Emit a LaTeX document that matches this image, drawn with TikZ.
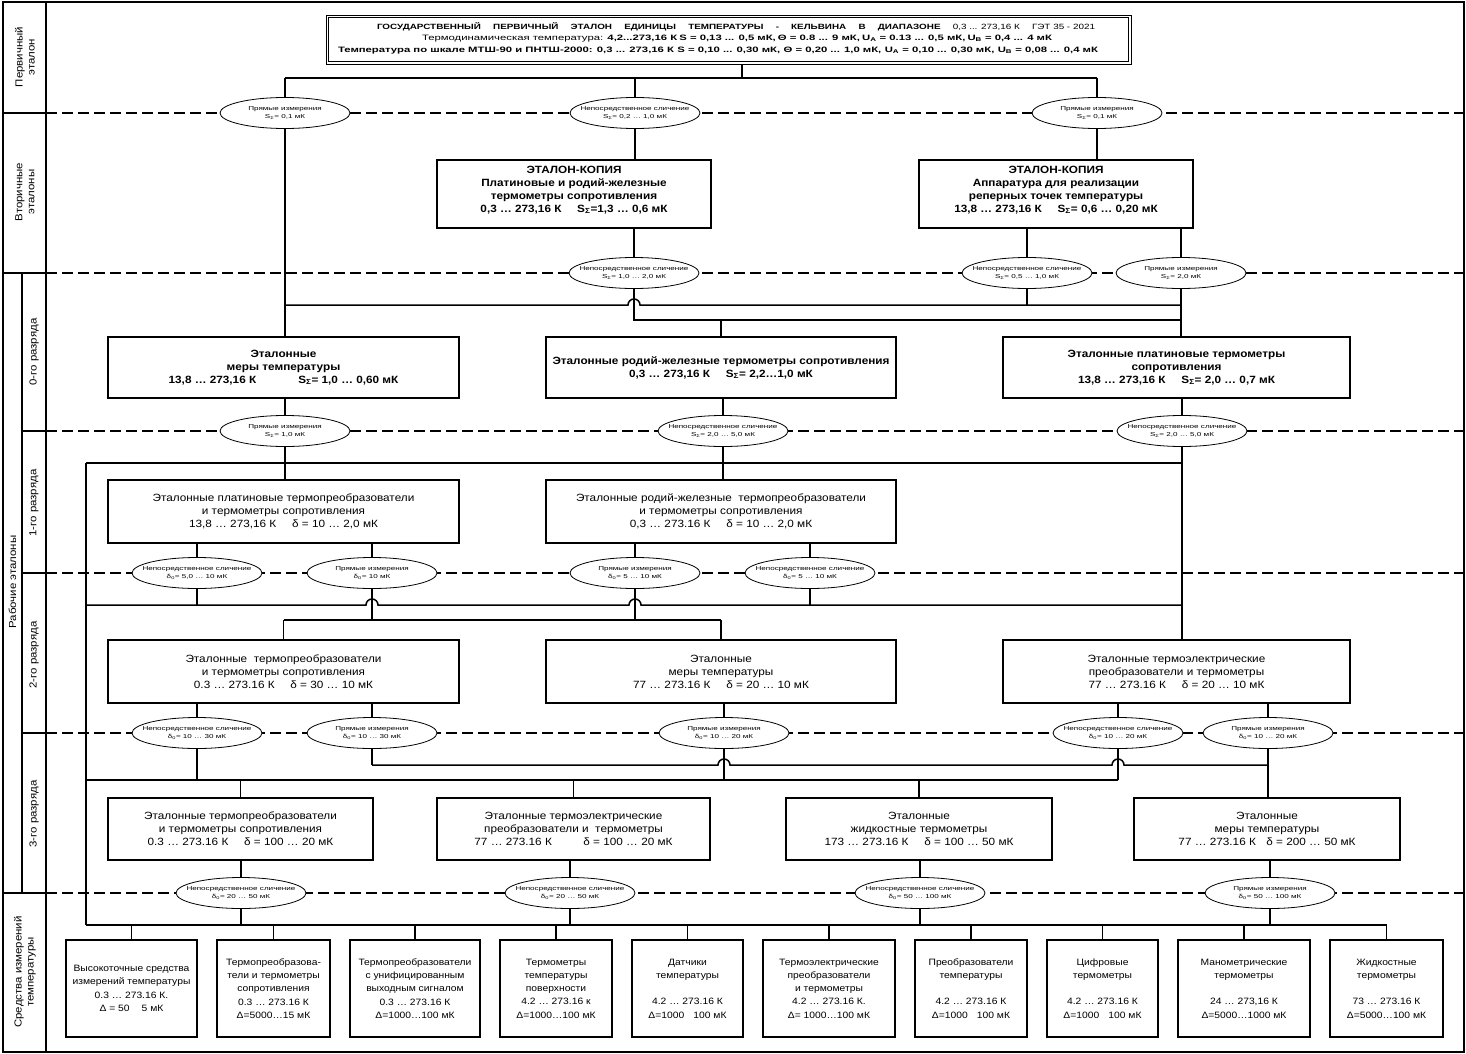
\documentclass[tikz,border=0pt]{standalone}
\usepackage{fontspec}
\setmainfont{Liberation Sans}[FakeStretch=1.12]
\newfontfamily\elfam{Liberation Sans}[FakeStretch=1.42]
\newfontfamily\hdfam{Liberation Sans}[FakeStretch=1.3]
\newfontfamily\hdfamb{Liberation Sans}[FakeStretch=1.45]
\usetikzlibrary{shapes.geometric,calc}
\newcommand\bxf{\fontsize{10.5}{13}\selectfont}
\newcommand\smf{\fontsize{9.2}{13.3}\selectfont}
\newcommand\elf{\elfam\fontsize{5.7}{7.2}\selectfont}
\newcommand\hdf{\hdfam\fontsize{7.6}{9}\selectfont}
\newcommand\hdfb{\hdfamb\fontsize{7.8}{9}\selectfont}
\newcommand\sbf{\fontsize{10.2}{12}\selectfont}
\newcommand\Ss{S\textsubscript{Σ}}
\newcommand\du{δ\textsubscript{0}}
\begin{document}
\begin{tikzpicture}[x=1pt,y=-1pt,
  bx/.style={draw, line width=1.8pt, inner sep=2pt, align=center, font=\bxf},
  bb/.style={bx, font=\bxf\bfseries},
  sb/.style={draw, line width=1.8pt, inner sep=1pt, align=center, font=\smf, minimum height=97pt},
  el/.style={ellipse, draw, line width=0.8pt, fill=white, minimum width=130pt, minimum height=31pt, inner xsep=-14pt, inner ysep=0pt, align=center, font=\elf},
  sep/.style={line width=2.5pt, dash pattern=on 11pt off 5pt},
  conn/.style={line width=1.5pt},
  fr/.style={line width=1.8pt},
  lab/.style={rotate=90, align=center, font=\sbf, inner sep=0pt},
  hd/.style={inner sep=0pt, font=\hdf},
  hdb/.style={inner sep=0pt, font=\hdfb}
]
\useasboundingbox (0,0) rectangle (1466,1054);
% frame and sidebar
\draw[fr] (3,2) rectangle (1464,1052);
\draw[fr] (46,2) -- (46,1052);
\draw[fr] (3,113) -- (46,113);
\draw[fr] (3,273) -- (46,273);
\draw[fr] (3,893) -- (46,893);
\draw[fr] (22,273) -- (22,893);
\draw[fr] (22,431) -- (46,431);
\draw[fr] (22,573) -- (46,573);
\draw[fr] (22,733) -- (46,733);
\foreach \yy in {113,273,431,573,733,893} \draw[sep] (46,\yy) -- (1466,\yy);
\node[lab] (l1) at (25,57) {Первичный\\эталон};
\node[lab] (l2) at (25,192) {Вторичные\\эталоны};
\node[lab] (l3) at (12.5,582) {Рабочие эталоны};
\node[lab] (l4) at (34,352) {0-го разряда};
\node[lab] (l5) at (34,503) {1-го разряда};
\node[lab] (l6) at (34,655) {2-го разряда};
\node[lab] (l7) at (34,814) {3-го разряда};
\node[lab] (l8) at (25,972) {Средства измерений\\температуры};
% primary standard
\node[draw, line width=0.8pt, minimum width=805pt, minimum height=49pt, inner sep=0pt] (prim) at (728.5,39.5) {};
\draw[line width=1.6pt] ($(prim.north west)+(3pt,-3pt)$) rectangle ($(prim.south east)+(-3pt,3pt)$);
\node[hd] (h1) at (736,27) {\makebox[718pt]{\bfseries ГОСУДАРСТВЕННЫЙ\hfill ПЕРВИЧНЫЙ\hfill ЭТАЛОН\hfill ЕДИНИЦЫ\hfill ТЕМПЕРАТУРЫ\hfill -\hfill КЕЛЬВИНА\hfill В\hfill ДИАПАЗОНЕ\hfill\mdseries 0,3 ... 273,16 К\hfill ГЭТ 35 - 2021}};
\node[hdb] (h2) at (737,38.5) {\makebox[630pt]{Термодинамическая температура:\hfill\hfill\bfseries 4,2...273,16 К\hfill S = 0,13 ... 0,5 мК,\hfill Θ = 0.8 ... 9 мК,\hfill U\textsubscript{A} = 0.13 ... 0,5 мК,\hfill U\textsubscript{B} = 0,4 ... 4 мК}};
\node[hdb] (h3) at (718,51) {\makebox[760pt]{\bfseries Температура по шкале МТШ-90 и ПНТШ-2000: 0,3 ... 273,16 К\hfill S = 0,10 ... 0,30 мК,\hfill Θ = 0,20 ... 1,0 мК,\hfill U\textsubscript{A} = 0,10 ... 0,30 мК,\hfill U\textsubscript{B} = 0,08 ... 0,4 мК}};
% secondary
\node[bb, minimum width=274pt, minimum height=68pt] (sec1) at (574,194) {ЭТАЛОН-КОПИЯ\\Платиновые и родий-железные\\термометры сопротивления\\0,3 … 273,16 К\hspace{1.5em}\Ss=1,3 … 0,6 мК\\[-3pt]};
\node[bb, minimum width=274pt, minimum height=68pt] (sec2) at (1056,194) {ЭТАЛОН-КОПИЯ\\Аппаратура для реализации\\реперных точек температуры\\13,8 … 273,16 К\hspace{1.5em}\Ss = 0,6 … 0,20 мК\\[-3pt]};
% level 0
\node[bb, minimum width=351pt, minimum height=61pt] (b0a) at (283.5,367.5) {Эталонные\\меры температуры\\13,8 … 273,16 К\hspace{4em}\Ss = 1,0 … 0,60 мК};
\node[bb, minimum width=350pt, minimum height=61pt] (b0b) at (721,367.5) {Эталонные родий-железные термометры сопротивления\\0,3 … 273,16 К\hspace{1.5em}\Ss = 2,2…1,0 мК};
\node[bb, minimum width=347pt, minimum height=61pt] (b0c) at (1176.5,367.5) {Эталонные платиновые термометры\\сопротивления\\13,8 … 273,16 К\hspace{1.5em}\Ss = 2,0 … 0,7 мК};
% level 1
\node[bx, minimum width=351pt, minimum height=63pt] (b1a) at (283.5,511.5) {Эталонные платиновые термопреобразователи\\и термометры сопротивления\\13,8 … 273,16 К\hspace{1.5em}δ = 10 … 2,0 мК};
\node[bx, minimum width=350pt, minimum height=63pt] (b1b) at (721,511.5) {Эталонные родий-железные\ \ термопреобразователи\\и термометры сопротивления\\0,3 … 273.16 К\hspace{1.5em}δ = 10 … 2,0 мК};
% level 2
\node[bx, minimum width=351pt, minimum height=63pt] (b2a) at (283.5,671.5) {Эталонные\ \ термопреобразователи\\и термометры сопротивления\\0.3 … 273.16 К\hspace{1.5em}δ = 30 … 10 мК};
\node[bx, minimum width=350pt, minimum height=63pt] (b2b) at (721,671.5) {Эталонные\\меры температуры\\77 … 273.16 К\hspace{1.5em}δ = 20 … 10 мК};
\node[bx, minimum width=347pt, minimum height=63pt] (b2c) at (1176.5,671.5) {Эталонные термоэлектрические\\преобразователи и термометры\\77 … 273.16 К\hspace{1.5em}δ = 20 … 10 мК};
% level 3
\node[bx, minimum width=265pt, minimum height=62pt] (b3a) at (240.5,829) {Эталонные термопреобразователи\\и термометры сопротивления\\0.3 … 273.16 К\hspace{1.5em}δ = 100 … 20 мК};
\node[bx, minimum width=273pt, minimum height=62pt] (b3b) at (573.5,829) {Эталонные термоэлектрические\\преобразователи и\ \ термометры\\77 … 273.16 К\hspace{3em}δ = 100 … 20 мК};
\node[bx, minimum width=266pt, minimum height=62pt] (b3c) at (919,829) {Эталонные\\жидкостные термометры\\173 … 273.16 К\hspace{1.5em}δ = 100 … 50 мК};
\node[bx, minimum width=266pt, minimum height=62pt] (b3d) at (1267,829) {Эталонные\\меры температуры\\77 … 273.16 К\hspace{1em}δ = 200 … 50 мК};
% measuring instruments
\node[sb, minimum width=131pt] (m1) at (131.5,988.5) {Высокоточные средства\\измерений температуры\\0.3 … 273.16 К.\\Δ = 50 \quad 5 мК};
\node[sb, minimum width=113pt] (m2) at (273.5,988.5) {Термопреобразова-\\тели и термометры\\сопротивления\\0.3 … 273.16 К\\Δ=5000…15 мК};
\node[sb, minimum width=130pt] (m3) at (415,988.5) {Термопреобразователи\\с унифицированным\\выходным сигналом\\0.3 … 273.16 К\\Δ=1000…100 мК};
\node[sb, minimum width=112pt] (m4) at (556,988.5) {Термометры\\температуры\\поверхности\\4.2 … 273.16 к\\Δ=1000…100 мК};
\node[sb, minimum width=111pt] (m5) at (687.5,988.5) {Датчики\\температуры\\[13pt]4.2 … 273.16 К\\Δ=1000\quad 100 мК};
\node[sb, minimum width=132pt] (m6) at (829,988.5) {Термоэлектрические\\преобразователи\\и термометры\\4.2 … 273.16 К.\\Δ= 1000…100 мК};
\node[sb, minimum width=112pt] (m7) at (971,988.5) {Преобразователи\\температуры\\[13pt]4.2 … 273.16 К\\Δ=1000\quad 100 мК};
\node[sb, minimum width=111pt] (m8) at (1102.5,988.5) {Цифровые\\термометры\\[13pt]4.2 … 273.16 К\\Δ=1000\quad 100 мК};
\node[sb, minimum width=132pt] (m9) at (1244,988.5) {Манометрические\\термометры\\[13pt]24 … 273,16 К\\Δ=5000…1000 мК};
\node[sb, minimum width=113pt] (m10) at (1386.5,988.5) {Жидкостные\\термометры\\[13pt]73 … 273.16 К\\Δ=5000…100 мК};
% ellipses
\node[el] (e11) at (285,113) {Прямые измерения\\\Ss = 0,1 мК};
\node[el] (e12) at (635,113) {Непосредственное сличение\\\Ss = 0,2 … 1,0 мК};
\node[el] (e13) at (1097,113) {Прямые измерения\\\Ss = 0,1 мК};
\node[el] (e21) at (634,273) {Непосредственное сличение\\\Ss = 1,0 … 2,0 мК};
\node[el] (e22) at (1027,273) {Непосредственное сличение\\\Ss = 0,5 … 1,0 мК};
\node[el] (e23) at (1181,273) {Прямые измерения\\\Ss = 2,0 мК};
\node[el] (e31) at (285,431) {Прямые измерения\\\Ss = 1,0 мК};
\node[el] (e32) at (723,431) {Непосредственное сличение\\\Ss = 2,0 … 5,0 мК};
\node[el] (e33) at (1182,431) {Непосредственное сличение\\\Ss = 2,0 … 5,0 мК};
\node[el] (e41) at (197,573) {Непосредственное сличение\\\du = 5,0 … 10 мК};
\node[el] (e42) at (372,573) {Прямые измерения\\\du = 10 мК};
\node[el] (e43) at (635,573) {Прямые измерения\\\du = 5 … 10 мК};
\node[el] (e44) at (810,573) {Непосредственное сличение\\\du = 5 … 10 мК};
\node[el] (e51) at (197,733) {Непосредственное сличение\\\du = 10 … 30 мК};
\node[el] (e52) at (372,733) {Прямые измерения\\\du = 10 … 30 мК};
\node[el] (e53) at (724,733) {Прямые измерения\\\du = 10 … 20 мК};
\node[el] (e54) at (1118,733) {Непосредственное сличение\\\du = 10 … 20 мК};
\node[el] (e55) at (1268,733) {Прямые измерения\\\du = 10 … 20 мК};
\node[el] (e61) at (241,893) {Непосредственное сличение\\\du = 20 … 50 мК};
\node[el] (e62) at (570,893) {Непосредственное сличение\\\du = 20 … 50 мК};
\node[el] (e63) at (920,893) {Непосредственное сличение\\\du = 50 … 100 мК};
\node[el] (e64) at (1270,893) {Прямые измерения\\\du = 50 … 100 мК};
% connectors: primary
\coordinate (j0) at (742,78);
\draw[conn] (prim.south -| j0) -- (j0);
\draw[conn] (e11 |- j0) -- (e13 |- j0);
\draw[conn] (e11 |- j0) -- (e11.north);
\draw[conn] (e12 |- j0) -- (e12.north);
\draw[conn] (e13 |- j0) -- (e13.north);
\draw[conn] (e11.south) -- (e11 |- b0a.north);
\draw[conn] (e12.south) -- (e12 |- sec1.north);
\draw[conn] (e13.south) -- (e13 |- sec2.north);
% secondary -> level 0
\coordinate (j1) at (0,305);
\coordinate (j2) at (0,320);
\draw[conn] (sec1.south -| e21) -- (e21.north);
\draw[conn] (sec2.south -| e22) -- (e22.north);
\draw[conn] (sec2.south -| e23) -- (e23.north);
\draw[conn] (e11 |- j1) -- ($(e21 |- j1)+(-6pt,0pt)$) arc[start angle=180,end angle=0,radius=6pt] -- (e23 |- j1);
\draw[conn] (e21.south) -- (e21 |- j2) -- (e23 |- j2);
\draw[conn] (e22.south) -- (e22 |- j1);
\draw[conn] (e23.south) -- (e23 |- b0c.north);
\draw[conn] (b0b.north |- j2) -- (b0b.north);
% level 0 -> level 1
\coordinate (j3) at (86,463);
\coordinate (j9) at (86,925);
\draw[conn] (b0a.south -| e31) -- (e31.north);
\draw[conn] (b0b.south -| e32) -- (e32.north);
\draw[conn] (b0c.south -| e33) -- (e33.north);
\draw[conn] (j3) -- (e33 |- j3);
\draw[conn] (j3) -- (j9);
\draw[conn] (e31.south) -- (e31 |- b1a.north);
\draw[conn] (e32.south) -- (e32 |- b1b.north);
\draw[conn] (e33.south) -- (e33 |- b2c.north);
% level 1 -> level 2
\coordinate (j4) at (86,605);
\coordinate (j5) at (0,620);
\draw[conn] (b1a.south -| e41) -- (e41.north);
\draw[conn] (b1a.south -| e42) -- (e42.north);
\draw[conn] (b1b.south -| e43) -- (e43.north);
\draw[conn] (b1b.south -| e44) -- (e44.north);
\draw[conn] (j4) -- ($(e42 |- j4)+(-6pt,0pt)$) arc[start angle=180,end angle=0,radius=6pt] -- ($(e43 |- j4)+(-6pt,0pt)$) arc[start angle=180,end angle=0,radius=6pt] -- (e33 |- j4);
\draw[conn] (e41.south) -- (e41 |- j4);
\draw[conn] (e44.south) -- (e44 |- j4);
\draw[conn] (e42.south) -- (e42 |- j5);
\draw[conn] (e43.south) -- (e43 |- j5);
\draw[conn] (b2a.north |- j5) -- (b2b.north |- j5);
\draw[conn] (b2a.north |- j5) -- (b2a.north);
\draw[conn] (b2b.north |- j5) -- (b2b.north);
% level 2 -> level 3
\coordinate (j6) at (0,765);
\coordinate (j7) at (86,780);
\draw[conn] (b2a.south -| e51) -- (e51.north);
\draw[conn] (b2a.south -| e52) -- (e52.north);
\draw[conn] (b2b.south -| e53) -- (e53.north);
\draw[conn] (b2c.south -| e54) -- (e54.north);
\draw[conn] (b2c.south -| e55) -- (e55.north);
\draw[conn] (e52 |- j6) -- ($(e53 |- j6)+(-6pt,0pt)$) arc[start angle=180,end angle=0,radius=6pt] -- ($(e54 |- j6)+(-6pt,0pt)$) arc[start angle=180,end angle=0,radius=6pt] -- (e55 |- j6);
\draw[conn] (e52.south) -- (e52 |- j6);
\draw[conn] (e51.south) -- (e51 |- j7);
\draw[conn] (e53.south) -- (e53 |- j7);
\draw[conn] (e54.south) -- (e54 |- j7);
\draw[conn] (e55.south) -- (e55 |- b3d.north);
\draw[conn] (j7) -- (e54 |- j7);
\draw[conn] (b3a.north |- j7) -- (b3a.north);
\draw[conn] (b3b.north |- j7) -- (b3b.north);
\draw[conn] (b3c.north |- j7) -- (b3c.north);
% level 3 -> instruments
\draw[conn] (b3a.south -| e61) -- (e61.north);
\draw[conn] (b3b.south -| e62) -- (e62.north);
\draw[conn] (b3c.south -| e63) -- (e63.north);
\draw[conn] (b3d.south -| e64) -- (e64.north);
\draw[conn] (e61.south) -- (e61 |- j9);
\draw[conn] (e62.south) -- (e62 |- j9);
\draw[conn] (e63.south) -- (e63 |- j9);
\draw[conn] (e64.south) -- (e64 |- j9);
\draw[conn] (j9) -- (m10.north |- j9);
\foreach \m in {m1,m2,m3,m4,m5,m6,m7,m8,m9,m10} \draw[conn] (\m.north |- j9) -- (\m.north);
\end{tikzpicture}
\end{document}
